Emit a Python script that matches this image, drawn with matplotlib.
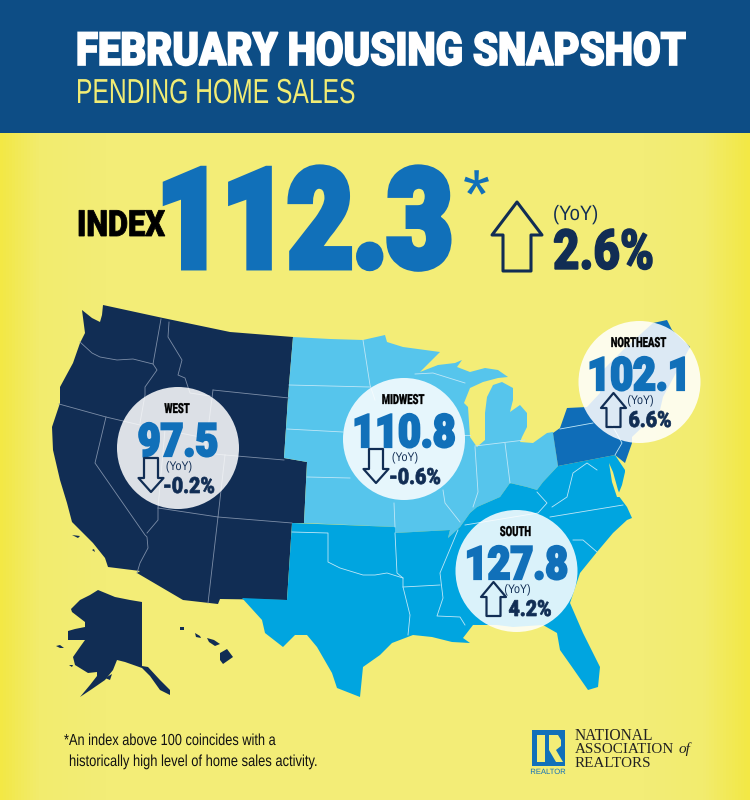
import numpy as np
import matplotlib
matplotlib.use("Agg")
import matplotlib.pyplot as plt
import matplotlib.patheffects as pe
from matplotlib.patches import Circle, Polygon, Rectangle
from matplotlib.colors import LinearSegmentedColormap
from matplotlib.text import Text
from matplotlib.transforms import Affine2D, Bbox

# values from the snapshot
regions = ["WEST", "MIDWEST", "SOUTH", "NORTHEAST"]
region_index = ["97.5", "110.8", "127.8", "102.1"]
region_yoy = ["-0.2%", "-0.6%", "4.2%", "6.6%"]
region_up = [False, False, True, True]
national_index = "112.3"
national_yoy = "2.6%"

# circle centres, arrow and percent offsets (pixels)
centres = [(178, 448), (404, 439), (516.5, 571), (639.5, 382)]
arrow_dx = [-27, -28, -23, -26]
pct_dx = [-15, -15, -8, -11]

NAVY = "#112d54"
BLUE = "#1170b9"
MID_BLUE = "#56c5ec"
SOUTH_BLUE = "#00a5e0"
NE_BLUE = "#0f6db8"
HEADER = "#0d4d85"
LAKE = "#f3ed77"

# map outlines
west = [(103, 305), (163, 318), (230, 332), (293, 337), (289, 385), (288, 398), (284, 458), (307, 462),
        (304, 523), (292, 523), (287, 600), (220, 599), (218, 604), (183, 600), (137, 573), (140, 571),
        (108, 567), (105, 558), (93, 543), (72, 522), (67, 503), (60, 480), (53, 450), (52, 427), (60, 403),
        (60, 387), (73, 363), (80, 343), (85, 333), (82, 310), (92, 318), (100, 322), (102, 315)]
midwest = [(293, 337), (330, 339), (363, 340), (385, 335), (387, 342), (403, 347), (440, 352), (420, 372),
           (438, 365), (455, 363), (462, 360), (457, 367), (470, 372), (485, 368), (498, 370), (508, 377),
           (498, 378), (483, 382), (470, 388), (464, 403), (468, 407), (470, 437), (477, 447), (485, 440),
           (485, 413), (487, 397), (493, 385), (502, 382), (513, 388), (513, 400), (510, 412), (520, 405),
           (527, 413), (527, 427), (522, 437), (520, 442), (533, 443), (547, 433), (553, 432), (558, 466),
           (543, 482), (537, 490), (527, 487), (510, 483), (500, 497), (477, 507), (470, 513), (460, 527),
           (448, 538), (450, 530), (395, 533), (395, 527), (304, 523), (307, 462), (284, 458), (288, 398),
           (289, 385)]
south = [(292, 523), (395, 527), (395, 533), (450, 530), (448, 538), (460, 527), (470, 513), (477, 507),
         (500, 497), (510, 483), (527, 487), (537, 490), (543, 482), (558, 466), (615, 455), (625, 470),
         (625, 472), (622, 485), (618, 495), (627, 507), (632, 518), (627, 520), (613, 533), (597, 552),
         (580, 573), (570, 603), (583, 633), (600, 667), (598, 687), (588, 690), (572, 667), (560, 650),
         (557, 633), (543, 625), (513, 627), (497, 625), (473, 625), (463, 638), (470, 643), (452, 642),
         (432, 637), (413, 635), (392, 643), (380, 655), (363, 667), (360, 697), (337, 688), (332, 673),
         (317, 647), (307, 635), (295, 635), (283, 647), (265, 633), (262, 620), (242, 598), (287, 600)]
northeast = [(553, 433), (560, 428), (567, 408), (587, 407), (600, 393), (603, 370), (623, 350), (653, 323),
             (667, 320), (672, 330), (690, 347), (663, 397), (660, 410), (632, 437), (632, 443), (625, 463),
             (615, 455), (558, 466)]
alaska = [(98, 590), (115, 597), (130, 600), (142, 602), (142, 666), (148, 667), (160, 680), (170, 690),
          (170, 695), (160, 690), (150, 676), (142, 668), (125, 662), (117, 660), (113, 670), (105, 680),
          (92, 689), (80, 697), (90, 685), (97, 676), (97, 672), (88, 673), (75, 665), (73, 657), (80, 647),
          (85, 640), (68, 640), (68, 631), (75, 629), (85, 627), (85, 622), (72, 612), (71, 609), (80, 600),
          (90, 595)]
specks = [[(220, 653), (227, 649), (233, 657), (223, 664), (220, 660)],
          [(207, 638), (214, 640), (220, 644), (215, 646), (209, 642)],
          [(195, 633), (200, 636), (201, 638), (196, 637)],
          [(180, 627), (184, 627), (184, 630), (180, 630)],
          [(56, 646), (60, 645), (64, 648), (60, 648)],
          [(69, 665), (73, 665), (72, 667)],
          [(105, 678), (112, 674), (110, 680)],
          [(72, 535), (80, 536), (78, 538)],
          [(92, 550), (94, 549), (95, 552)]]
chesapeake = [(609, 463), (613, 472), (618, 490), (621, 497), (617, 497), (612, 482)]

west_lines = [
    [(80, 342), (92, 353), (100, 357), (117, 360), (133, 359), (153, 364)],
    [(161, 319), (153, 364), (157, 370), (145, 387), (145, 395), (140, 423)],
    [(169, 322), (168, 337), (182, 360), (178, 375), (185, 378), (190, 393), (210, 396)],
    [(59, 404), (106, 417), (140, 425), (205, 438), (205, 453), (225, 455)],
    [(213, 390), (205, 453)],
    [(213, 390), (289, 398)],
    [(225, 455), (284, 460)],
    [(225, 455), (218, 517)],
    [(158, 508), (218, 517), (292, 523)],
    [(218, 517), (208, 603)],
    [(165, 430), (158, 508), (158, 520), (147, 533)],
    [(106, 417), (95, 463), (145, 535), (147, 537), (148, 548), (140, 563), (137, 573)],
]
east_lines = [
    [(289, 385), (370, 387)],
    [(363, 340), (370, 385), (375, 400)],
    [(287, 429), (343, 432)],
    [(307, 477), (350, 478)],
    [(395, 527), (394, 503)],
    [(415, 374), (433, 373), (465, 383)],
    [(464, 435), (470, 435)],
    [(475, 447), (478, 492), (473, 507)],
    [(505, 443), (510, 483)],
    [(475, 446), (525, 440)],
    [(443, 490), (445, 503), (460, 522)],
    [(292, 532), (328, 533), (328, 562), (340, 568), (363, 575), (375, 575), (387, 573), (403, 578)],
    [(395, 533), (397, 573), (403, 578), (403, 587), (410, 615), (408, 635)],
    [(403, 587), (440, 585)],
    [(458, 530), (440, 573), (443, 598), (437, 616), (460, 617), (465, 625)],
    [(537, 492), (547, 503), (538, 513), (465, 525)],
    [(550, 517), (623, 505)],
    [(552, 507), (567, 497), (573, 473), (587, 463), (597, 470)],
    [(573, 540), (583, 540), (597, 552)],
    [(560, 429), (593, 423)],
    [(615, 455), (622, 443), (612, 425)],
]


class Squeeze(pe.AbstractPathEffect):
    # no condensed font is installed, so narrow the glyphs when they are drawn
    def __init__(self, sx, centred, stroke):
        super().__init__()
        self.sx = sx
        self.centred = centred
        self.stroke = stroke

    def draw_path(self, renderer, gc, tpath, affine, rgbFace=None):
        shift = tpath.get_extents().x1 * (1 - self.sx) / 2 if self.centred else 0
        squeezed = Affine2D().scale(self.sx, 1).translate(shift, 0) + affine
        gc0 = renderer.new_gc()
        gc0.copy_properties(gc)
        gc0.set_linewidth(self.stroke)
        gc0.set_foreground(rgbFace)
        gc0.set_joinstyle("miter")
        renderer.draw_path(gc0, tpath, squeezed, rgbFace)
        gc0.restore()


class NarrowText(Text):
    def __init__(self, x, y, s, sx=0.8, stroke=0, **kw):
        super().__init__(x, y, s, **kw)
        self.sx = sx
        self.centred = kw.get("ha") == "center"
        self.set_path_effects([Squeeze(sx, self.centred, stroke)])

    def get_window_extent(self, renderer=None, dpi=None):
        bb = super().get_window_extent(renderer, dpi)
        w = bb.width * self.sx
        x0 = bb.x0 + (bb.width - w) / 2 if self.centred else bb.x0
        return Bbox.from_bounds(x0, bb.y0, w, bb.height)


def put_text(ax, x, y, s, sx=0.8, stroke=0, family="Liberation Sans", **kw):
    ax.add_artist(NarrowText(x, y, s, sx=sx, stroke=stroke, family=family, **kw))


def draw_arrow(ax, cx, top, bottom, half_w, half_shaft, wing, lw=1.6):
    # arrow points at the "top" value, so it also works for down arrows
    pts = [(cx, top), (cx + half_w, wing), (cx + half_shaft, wing), (cx + half_shaft, bottom),
           (cx - half_shaft, bottom), (cx - half_shaft, wing), (cx - half_w, wing)]
    ax.add_patch(Polygon(pts, closed=True, fc="none", ec=NAVY, lw=lw, joinstyle="round", zorder=6))


fig = plt.figure(figsize=(7.5, 8), dpi=100)
ax = fig.add_axes([0, 0, 1, 1])

# yellow background, stronger at the left and right edges
cmap = LinearSegmentedColormap.from_list("bg", [(0, "#f3e845"), (0.05, "#f2ec6e"), (0.14, LAKE), (0.86, LAKE),
                                                (0.94, "#f2ec6e"), (1, "#f3e845")])
ax.imshow(np.linspace(0, 1, 750).reshape(1, -1), cmap=cmap, extent=(0, 750, 800, 133), aspect="auto", zorder=0)
ax.set_xlim(0, 750)
ax.set_ylim(800, 0)
ax.axis("off")
ax.add_patch(Rectangle((0, 0), 750, 133, fc=HEADER, ec="none", zorder=1))

# title block
put_text(ax, 76, 65, "FEBRUARY HOUSING SNAPSHOT", sx=0.875, stroke=1.2, family="Roboto", weight="black", fontsize=33, color="white", zorder=2)
put_text(ax, 76, 103, "PENDING HOME SALES", sx=0.71, fontsize=25, color="#f1ec74", zorder=2)

# national figure
put_text(ax, 77, 236, "INDEX", sx=0.855, stroke=0.6, family="Roboto", weight="black", fontsize=26, color="black", zorder=2)
put_text(ax, 157, 267, national_index, sx=0.82, stroke=5, family="Roboto", weight="black", fontsize=99, color=BLUE, zorder=2)
put_text(ax, 463, 218, "*", sx=1, fontsize=50, color=BLUE, zorder=2)
draw_arrow(ax, 517, 202, 271, 25, 14, 235, lw=2.2)
put_text(ax, 553, 220, "(YoY)", sx=0.88, fontsize=15, color=NAVY, zorder=2)
put_text(ax, 553, 269, national_yoy, sx=0.825, stroke=1, family="Roboto", weight="black", fontsize=40, color=NAVY, zorder=2)

# map
for shape, colour in [(west, NAVY), (alaska, NAVY), (midwest, MID_BLUE), (south, SOUTH_BLUE), (northeast, NE_BLUE)]:
    ax.add_patch(Polygon(shape, closed=True, fc=colour, ec="none", zorder=3))
for speck in specks:
    ax.add_patch(Polygon(speck, closed=True, fc=NAVY, ec="none", zorder=3))
ax.add_patch(Polygon(chesapeake, closed=True, fc=LAKE, ec="none", zorder=3))
for line in west_lines:
    ax.plot(*zip(*line), color="#7d8ea8", lw=0.6, zorder=4)
for line in east_lines:
    ax.plot(*zip(*line), color="#bfe7f7", lw=0.6, zorder=4)

# region badges
for i, name in enumerate(regions):
    cx, cy = centres[i]
    ax.add_patch(Circle((cx, cy), 61, fc="white", ec="none", alpha=0.86, zorder=5))
    put_text(ax, cx - 1, cy - 35, name, sx=0.68, stroke=0.2, family="Roboto", weight="black", fontsize=10, color="black", ha="center", zorder=6)
    put_text(ax, cx, cy + 8, region_index[i], sx=0.86, stroke=1.6, family="Roboto", weight="black", fontsize=33, color=BLUE, ha="center", zorder=6)
    put_text(ax, cx + 1, cy + 22, "(YoY)", sx=0.85, fontsize=9, color=NAVY, ha="center", zorder=6)
    put_text(ax, cx + pct_dx[i], cy + 45, region_yoy[i], sx=0.88, stroke=0.5, family="Roboto", weight="black", fontsize=16, color=NAVY, zorder=6)
    arrow_x = cx + arrow_dx[i]
    if region_up[i]:
        draw_arrow(ax, arrow_x, cy + 11, cy + 45, 12.5, 7, cy + 26)
    else:
        draw_arrow(ax, arrow_x, cy + 44, cy + 10, 12.5, 7, cy + 30)

# footnote
put_text(ax, 64, 745, "*An index above 100 coincides with a", sx=0.8, fontsize=11.5, color="#111111", zorder=2)
put_text(ax, 69, 766, "historically high level of home sales activity.", sx=0.81, fontsize=11.5, color="#111111", zorder=2)

# logo
ax.add_patch(Rectangle((532, 730), 33, 36, fc=BLUE, ec="none", zorder=2))
ax.add_patch(Rectangle((537, 735), 8, 27, fc=LAKE, ec="none", zorder=3))
ax.add_patch(Polygon([(549, 735), (558, 735), (561, 740), (561, 746), (556, 750), (563, 762), (556, 762), (549, 750)],
                     closed=True, fc=LAKE, ec="none", zorder=3))
put_text(ax, 548, 774, "REALTOR", sx=1, fontsize=5.5, color=BLUE, ha="center", zorder=2)
ax.text(575, 740, "NATIONAL", family="Liberation Serif", fontsize=11.2, color="#222222", zorder=2)
ax.text(575, 753, "ASSOCIATION", family="Liberation Serif", fontsize=10.9, color="#222222", zorder=2)
ax.text(575, 767, "REALTORS", family="Liberation Serif", fontsize=10.9, color="#222222", zorder=2)
ax.text(679, 753, "of", family="Liberation Serif", style="italic", fontsize=11, color="#222222", zorder=2)

fig.savefig("out.png", dpi=100)
